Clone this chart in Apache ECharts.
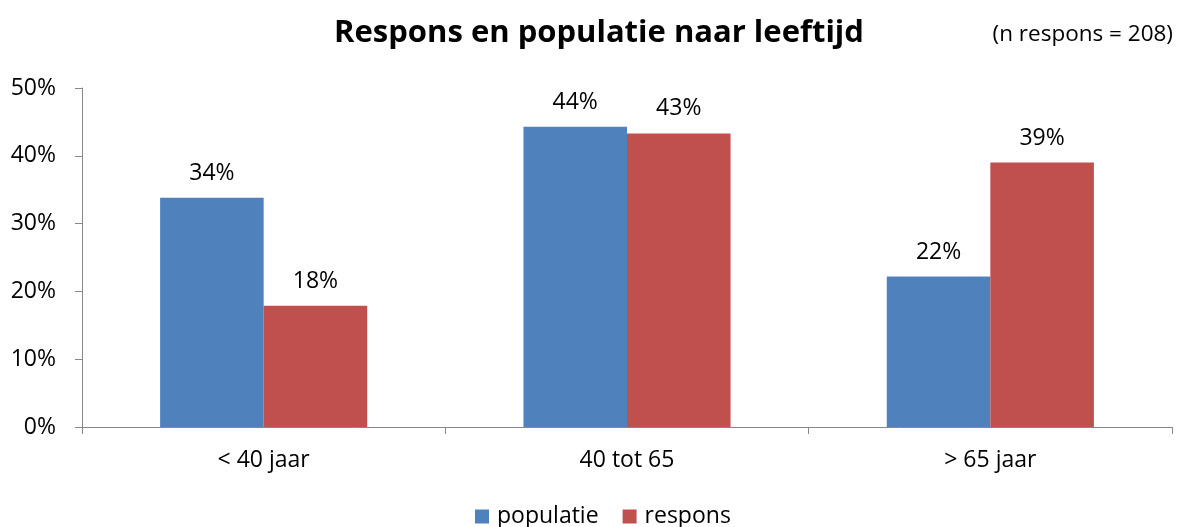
<!DOCTYPE html>
<html><head><meta charset="utf-8">
<script src="https://cdn.jsdelivr.net/npm/echarts@6/dist/echarts.min.js"></script>
<style>html,body{margin:0;padding:0;background:#fff}#c{width:1188px;height:527px}</style>
</head><body><div id="c"></div>
<script>
const categories = ['< 40 jaar', '40 tot 65', '> 65 jaar'];
const populatie = [33.8, 44.3, 22.2];
const respons = [17.9, 43.3, 39.0];
const yTicks = [0, 10, 20, 30, 40, 50];
const FONT = 'Open Sans';
const chart = echarts.init(document.getElementById('c'));
const lbl = {show: true, position: 'top', distance: 13, color: '#000', fontSize: 23, fontFamily: FONT,
  formatter: p => Math.round(p.value) + '%'};
chart.setOption({
  animation: false,
  title: [
    {text: 'Respons en populatie naar leeftijd', left: 594, top: 13, textAlign: 'center',
     textStyle: {fontFamily: FONT, fontWeight: 'bold', fontSize: 31, color: '#000'}},
    {text: '(n respons = 208)', right: 10, top: 18,
     textStyle: {fontFamily: FONT, fontWeight: 'normal', fontSize: 22.5, color: '#000'}}
  ],
  legend: {bottom: -6, left: 470, itemWidth: 14, itemHeight: 14, itemGap: 24,
    icon: 'rect', textStyle: {fontFamily: FONT, fontSize: 23, color: '#000', padding: [0, 0, 0, 3]}},
  grid: {left: 82, right: 16, top: 88, bottom: 100, containLabel: false},
  xAxis: {type: 'category', data: categories,
    axisLine: {lineStyle: {color: '#888', width: 1}},
    axisTick: {show: true, length: 7, lineStyle: {color: '#888'}},
    axisLabel: {fontFamily: FONT, fontSize: 23, color: '#000', margin: 22}},
  yAxis: {type: 'value', min: yTicks[0], max: yTicks[yTicks.length - 1], interval: 10,
    splitLine: {show: false},
    axisLine: {show: true, lineStyle: {color: '#888', width: 1}},
    axisTick: {show: true, length: 7, lineStyle: {color: '#888'}},
    axisLabel: {fontFamily: FONT, fontSize: 23, color: '#000', margin: 26, formatter: v => v + '%'}},
  series: [
    {name: 'populatie', type: 'bar', data: populatie, barGap: '0%', barCategoryGap: '43%',
     itemStyle: {color: '#4F81BD'}, label: lbl},
    {name: 'respons', type: 'bar', data: respons,
     itemStyle: {color: '#C0504D'}, label: lbl}
  ]
});
</script></body></html>
